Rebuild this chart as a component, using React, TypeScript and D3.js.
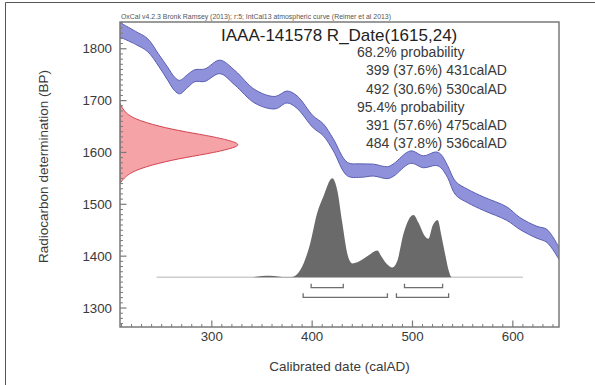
import React from 'react';
import * as d3 from 'd3';

const W = 595;
const H = 385;

// axis ticks
const xMajorTicks = [300, 400, 500, 600];
const yMajorTicks = [1300, 1400, 1500, 1600, 1700, 1800];

// IntCal13 calibration curve (calAD, BP mean, BP half-width)
const curveDates = [208, 224, 236, 247, 256, 263, 268, 276, 283, 293, 308, 323, 343, 363, 375, 385, 401, 411, 421, 435, 448, 461, 475, 481, 498, 511, 523, 528, 535, 543, 555, 571, 594, 607, 624, 634, 646];
const curveBP = [1837, 1821, 1807, 1778, 1752, 1732, 1726, 1738, 1748, 1749, 1765, 1744, 1708, 1696, 1707, 1697, 1659, 1644, 1615, 1568, 1565, 1566, 1561, 1566, 1591, 1582, 1588, 1584, 1563, 1531, 1516, 1501, 1482, 1463, 1446, 1439, 1405];
const curveErr = [14, 12.5, 12.5, 11.5, 12.5, 13, 13, 12.5, 11.5, 12, 13, 14, 13, 12, 11.5, 12, 11.5, 11.5, 11.5, 13, 13, 11.5, 11.5, 12, 12, 11.5, 13, 13, 11.5, 13, 13, 13, 13, 11.5, 11.5, 12.5, 11.5];

// radiocarbon measurement R_Date(1615,24): relative density along BP
const redBP = [1695, 1680, 1665, 1650, 1640, 1630, 1620, 1615, 1610, 1600, 1590, 1580, 1565, 1550, 1540];
const redDensity = [0, 0.03, 0.11, 0.33, 0.54, 0.80, 0.97, 1.0, 0.97, 0.80, 0.54, 0.33, 0.11, 0.03, 0];

// calibrated probability distribution (calAD, relative probability)
const distDates = [245, 338, 346, 354, 362, 370, 378, 381, 388, 398, 405, 411, 420, 425, 430, 435, 440, 450, 456, 465, 469, 474, 480, 485, 491, 496, 501, 506, 512, 516, 520, 525, 529, 533, 536, 539, 610];
const distProb = [0, 0, 0.008, 0.015, 0.012, 0.004, 0.002, 0.005, 0.07, 0.34, 0.65, 0.81, 1.0, 0.88, 0.55, 0.24, 0.14, 0.18, 0.22, 0.27, 0.21, 0.14, 0.10, 0.17, 0.44, 0.58, 0.63, 0.55, 0.42, 0.39, 0.52, 0.58, 0.41, 0.21, 0.07, 0, 0];

// calibrated ranges
const range68 = [[399, 431], [492, 530]];
const range95 = [[391, 475], [484, 536]];

const titleText = 'IAAA-141578 R_Date(1615,24)';
const headerText = 'OxCal v4.2.3 Bronk Ramsey (2013); r:5; IntCal13 atmospheric curve (Reimer et al 2013)';
const probLines = [
  { text: '68.2% probability', indent: false },
  { text: '399 (37.6%) 431calAD', indent: true },
  { text: '492 (30.6%) 530calAD', indent: true },
  { text: '95.4% probability', indent: false },
  { text: '391 (57.6%) 475calAD', indent: true },
  { text: '484 (37.8%) 536calAD', indent: true },
];

const FONT = '"Liberation Sans", Arial, Helvetica, sans-serif';

export default function App() {
  const left = 120, right = 559, top = 22, bottom = 327;
  const x = d3.scaleLinear().domain([208.5, 646]).range([left, right]);
  const y = d3.scaleLinear().domain([1263.4, 1851.6]).range([bottom, top]);
  const redX = d3.scaleLinear().domain([0, 1]).range([left, 239]);
  const distY = d3.scaleLinear().domain([0, 1]).range([277.3, 178.3]);

  const curvePts = curveDates.map((d, i) => ({ d, m: curveBP[i], e: curveErr[i] }));
  const band = d3.area<any>()
    .x(p => x(p.d))
    .y0(p => y(p.m - p.e))
    .y1(p => y(p.m + p.e))
    .curve(d3.curveCatmullRom.alpha(0.5));
  const upper = d3.line<any>().x(p => x(p.d)).y(p => y(p.m + p.e)).curve(d3.curveCatmullRom.alpha(0.5));
  const lower = d3.line<any>().x(p => x(p.d)).y(p => y(p.m - p.e)).curve(d3.curveCatmullRom.alpha(0.5));

  const redPts = redBP.map((b, i) => ({ b, v: redDensity[i] }));
  const redArea = d3.area<any>()
    .y(p => y(p.b))
    .x0(() => redX(0))
    .x1(p => redX(p.v))
    .curve(d3.curveBasis);

  const distPts = distDates.map((d, i) => ({ d, p: distProb[i] }));
  const distArea = d3.area<any>()
    .x(p => x(p.d))
    .y0(() => distY(0))
    .y1(p => distY(p.p))
    .curve(d3.curveMonotoneX);

  const xMinor = d3.range(210, 646, 10).filter(v => !xMajorTicks.includes(v));
  const yMinor = d3.range(1270, 1851, 10).filter(v => !yMajorTicks.includes(v));

  const axisColor = '#7a7a7a';
  const textColor = '#3a3a3a';

  const bracket = (r: number[], yy: number, key: string) => (
    <path key={key}
      d={`M${x(r[0])},${yy - 4}V${yy}H${x(r[1])}V${yy - 4}`}
      fill="none" stroke="#6e6e6e" strokeWidth={1.3} />
  );

  return (
    <svg width={W} height={H} style={{ position: 'absolute', left: 0, top: 0, background: '#fff' }} fontFamily={FONT}>
      <defs>
        <clipPath id="plotClip">
          <rect x={left} y={top} width={right - left} height={bottom - top} />
        </clipPath>
      </defs>
      {/* outer border */}
      <path d={`M5.5,${H}V2.5H${W}`} fill="none" stroke="#555" strokeWidth={1} />

      {/* header */}
      <text x={121} y={19} fontSize={7} fill="#555" textLength={270} lengthAdjust="spacingAndGlyphs">{headerText}</text>

      <g clipPath="url(#plotClip)">
        {/* calibration curve */}
        <path d={band(curvePts) || ''} fill="#8f92da" stroke="none" />
        <path d={upper(curvePts) || ''} fill="none" stroke="#5a5eb0" strokeWidth={1} />
        <path d={lower(curvePts) || ''} fill="none" stroke="#5a5eb0" strokeWidth={1} />

        {/* measurement */}
        <path d={redArea(redPts) || ''} fill="#f5a3a7" stroke="#d2444f" strokeWidth={1} />

        {/* calibrated distribution baseline */}
        <line x1={x(distDates[0])} x2={x(distDates[distDates.length - 1])}
          y1={distY(0)} y2={distY(0)} stroke="#cdcdcd" strokeWidth={1.6} />
        <path d={distArea(distPts) || ''} fill="#6a6a6a" stroke="none" />
      </g>

      {/* ranges */}
      {range68.map((r, i) => bracket(r, 287.7, 'r68' + i))}
      {range95.map((r, i) => bracket(r, 297.3, 'r95' + i))}

      {/* frame */}
      <rect x={left} y={top} width={right - left} height={bottom - top} fill="none" stroke={axisColor} strokeWidth={1.5} />

      {/* x ticks */}
      {xMinor.map(v => (
        <line key={'xm' + v} x1={x(v)} x2={x(v)} y1={bottom} y2={bottom - 3} stroke={axisColor} strokeWidth={1} />
      ))}
      {xMajorTicks.map(v => (
        <g key={'xM' + v}>
          <line x1={x(v)} x2={x(v)} y1={bottom} y2={bottom - 6.5} stroke={axisColor} strokeWidth={1.2} />
          <text x={x(v)} y={340.5} fontSize={13.3} textAnchor="middle" fill={textColor}>{v}</text>
        </g>
      ))}
      {/* y ticks */}
      {yMinor.map(v => (
        <line key={'ym' + v} x1={left} x2={left + 3} y1={y(v)} y2={y(v)} stroke={axisColor} strokeWidth={1} />
      ))}
      {yMajorTicks.map(v => (
        <g key={'yM' + v}>
          <line x1={left} x2={left + 6.5} y1={y(v)} y2={y(v)} stroke={axisColor} strokeWidth={1.2} />
          <text x={112} y={y(v) + 4.7} fontSize={13.3} textAnchor="end" fill={textColor}>{v}</text>
        </g>
      ))}

      {/* axis titles */}
      <text x={(left + right) / 2} y={370.5} fontSize={13.5} textAnchor="middle" fill={textColor}>Calibrated date (calAD)</text>
      <text transform={`translate(48,166.5) rotate(-90)`} fontSize={13.5} textAnchor="middle" fill={textColor}>Radiocarbon determination (BP)</text>

      {/* title and ranges text */}
      <text x={221} y={41} fontSize={17} fill="#222">{titleText}</text>
      {probLines.map((l, i) => (
        <text key={'pl' + i} x={l.indent ? 366 : 357} y={57 + i * 18.25} fontSize={14} fill={textColor}>{l.text}</text>
      ))}
    </svg>
  );
}
